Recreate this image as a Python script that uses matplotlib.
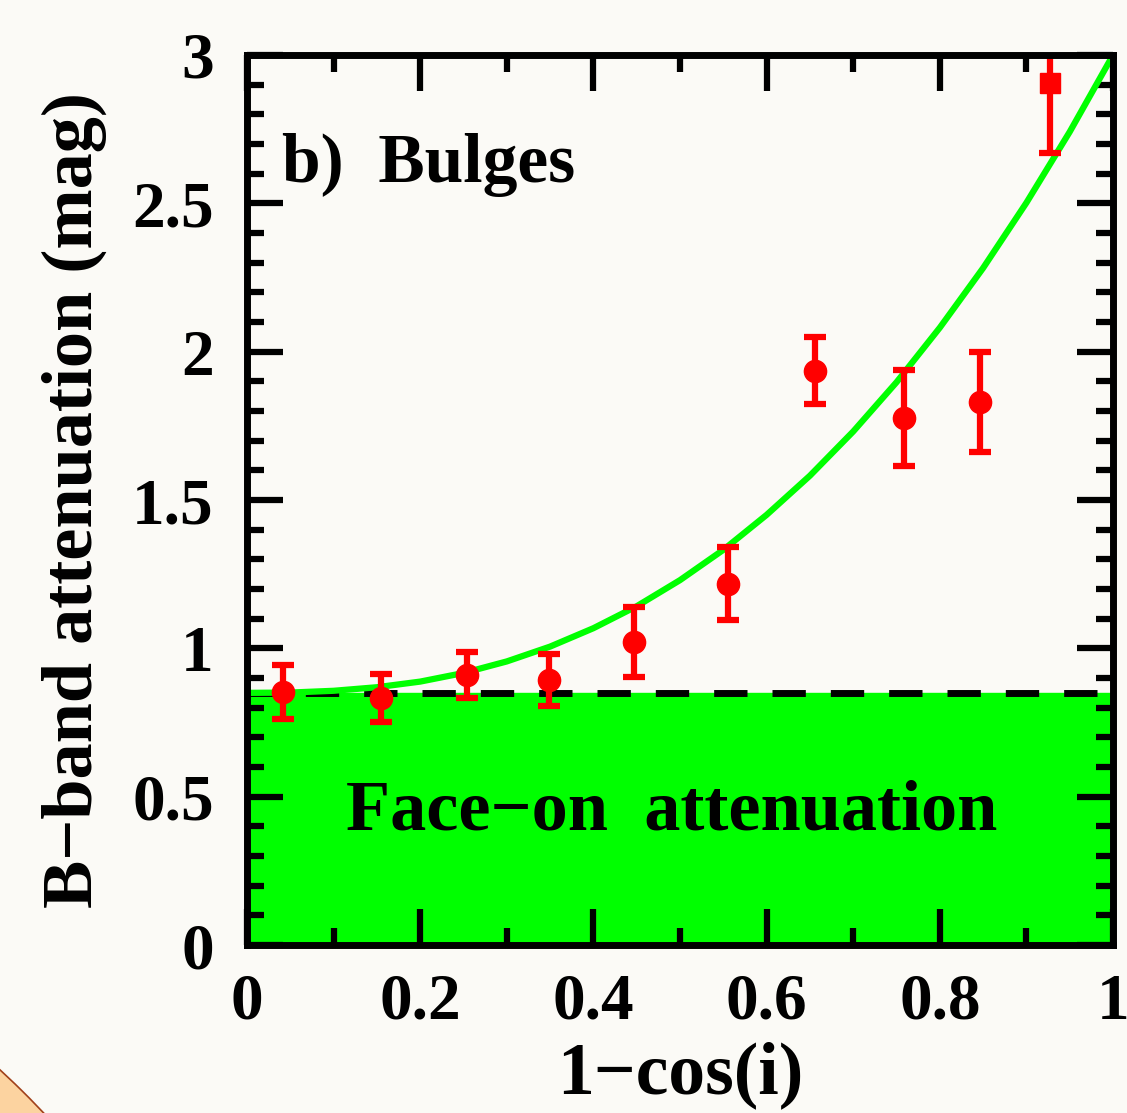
import numpy as np
import matplotlib
matplotlib.use("Agg")
import matplotlib.pyplot as plt
from matplotlib.patches import Circle
from matplotlib.ticker import MultipleLocator

# data points
x_pts = [0.042, 0.155, 0.254, 0.349, 0.447, 0.555, 0.656, 0.759, 0.846, 0.927]
y_pts = [0.853, 0.832, 0.910, 0.893, 1.021, 1.217, 1.935, 1.776, 1.830, 2.905]
y_err = [0.090, 0.080, 0.078, 0.088, 0.118, 0.123, 0.113, 0.162, 0.168, 0.235]

# fitted curve
x_fit = [0.0, 0.05, 0.1, 0.15, 0.2, 0.25, 0.3, 0.35, 0.4, 0.45, 0.5,
         0.55, 0.6, 0.65, 0.7, 0.75, 0.8, 0.85, 0.9, 0.95, 1.0]
y_fit = [0.850, 0.851, 0.857, 0.869, 0.888, 0.917, 0.956, 1.006, 1.068, 1.142, 1.230,
         1.332, 1.450, 1.582, 1.731, 1.897, 2.081, 2.282, 2.502, 2.741, 3.000]

face_on = 0.85

bg = "#fbfaf6"
serif = ["Liberation Serif", "DejaVu Serif"]

fig = plt.figure(figsize=(11.27, 11.13), dpi=100, facecolor=bg)
ax = fig.add_axes([0.2192, 0.1509, 0.7684, 0.7997], facecolor=bg)

ax.axhspan(0, face_on, color="#00ff00", zorder=1)
ax.axhline(face_on, color="black", lw=5, dashes=(4.8, 3.6), zorder=2)
ax.plot(x_fit, y_fit, color="#00ff00", lw=4.5, zorder=3, solid_joinstyle="round")

ax.errorbar(x_pts[:-1], y_pts[:-1], yerr=y_err[:-1], fmt="o", color="red",
            ms=16, elinewidth=4.5, capsize=8, capthick=4.5, zorder=4)
ax.errorbar(x_pts[-1:], y_pts[-1:], yerr=y_err[-1:], fmt="s", color="red",
            ms=15, elinewidth=4.5, capsize=8, capthick=4.5, zorder=4)

ax.set_xlim(0, 1)
ax.set_ylim(0, 3)
ax.xaxis.set_major_locator(MultipleLocator(0.2))
ax.xaxis.set_minor_locator(MultipleLocator(0.1))
ax.yaxis.set_major_locator(MultipleLocator(0.5))
ax.yaxis.set_minor_locator(MultipleLocator(0.1))
ax.tick_params(which="both", direction="in", top=True, right=True, width=4.5,
               colors="black", zorder=5)
ax.tick_params(which="major", length=26)
ax.tick_params(axis="x", which="major", pad=20)
ax.tick_params(axis="y", which="major", pad=24)
ax.tick_params(which="minor", length=12)
ax.set_xticks([0, 0.2, 0.4, 0.6, 0.8, 1.0])
ax.set_xticklabels(["0", "0.2", "0.4", "0.6", "0.8", "1"])
ax.set_yticks([0, 0.5, 1, 1.5, 2, 2.5, 3])
ax.set_yticklabels(["0", "0.5", "1", "1.5", "2", "2.5", "3"])
for lab in ax.get_xticklabels() + ax.get_yticklabels():
    lab.set_family(serif)
    lab.set_fontweight("bold")
    lab.set_fontsize(47)
for s in ax.spines.values():
    s.set_linewidth(5)
    s.set_zorder(6)

ax.set_xlabel("1\u2212cos(i)", family=serif, fontweight="bold", fontsize=53, labelpad=6)
ax.set_ylabel("B\u2212band attenuation (mag)", family=serif, fontweight="bold",
              fontsize=52, labelpad=18)

ax.text(0.04, 2.63, "b)  Bulges", family=serif, fontweight="bold", fontsize=50,
        va="center", ha="left", zorder=6)
ax.text(0.49, 0.45, "Face\u2212on  attenuation", family=serif, fontweight="bold",
        fontsize=52, va="center", ha="center", zorder=6)

# corner decoration of the screenshot
fig.patches.append(Circle((-0.5, -0.5), 0.735, transform=fig.transFigure,
                          facecolor="#fcd3a0", edgecolor="#a0401a", lw=1.2))

fig.savefig("out.png", dpi=100, facecolor=bg)
